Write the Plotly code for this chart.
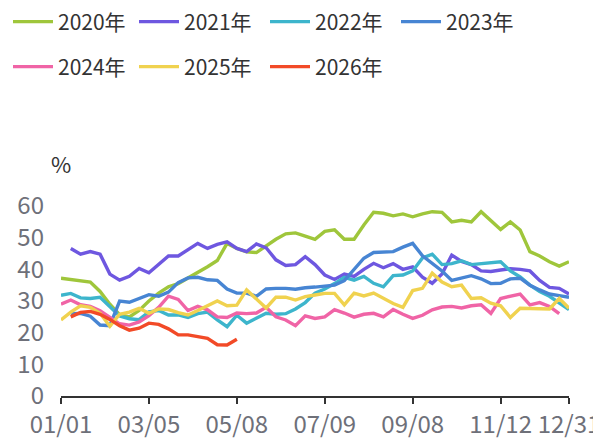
import plotly.graph_objects as go

tick_positions = [0, 9, 18, 27, 36, 45, 52]
tick_labels = ["01/01", "03/05", "05/08", "07/09", "09/08", "11/12", "12/31"]
y_ticks = [0, 10, 20, 30, 40, 50, 60]

# weekly values; each series starts at the given week index
v2020 = [37.2, 36.8, 36.4, 36.0, 33.0, 29.0, 25.7, 25.0, 27.0, 30.0,
         32.5, 34.5, 35.5, 37.3, 38.8, 40.8, 42.8, 48.2, 46.6, 45.5,
         45.3, 47.5, 49.5, 51.2, 51.5, 50.5, 49.5, 52.0, 52.5, 49.5,
         49.5, 54.0, 58.0, 57.7, 56.9, 57.5, 56.6, 57.5, 58.2, 58.0,
         55.0, 55.5, 55.0, 58.2, 55.4, 52.6, 55.0, 52.4, 45.6, 44.2,
         42.4, 41.0, 42.4]
s2020 = 0
v2021 = [46.6, 44.8, 45.6, 44.8, 38.5, 36.6, 37.8, 40.3, 38.9, 41.5,
         44.2, 44.2, 46.1, 48.2, 46.6, 47.9, 48.7, 46.6, 45.6, 48.0,
         46.8, 43.0, 41.2, 41.5, 44.0, 41.5, 38.2, 36.8, 38.5, 37.8,
         40.0, 41.9, 40.5, 41.8, 40.0, 40.8, 37.5, 35.6, 38.5, 44.5,
         42.5, 41.5, 39.5, 39.3, 39.8, 40.2, 40.0, 39.5, 36.5, 34.3,
         34.0, 32.2]
s2021 = 1
v2022 = [31.8, 32.4, 31.0, 30.8, 31.2, 28.3, 25.3, 24.4, 24.1, 26.6,
         27.0, 25.6, 25.6, 24.8, 26.0, 26.5, 24.0, 21.9, 25.5, 23.0,
         24.5, 26.1, 25.8, 26.0, 27.5, 29.5, 32.5, 33.8, 35.5, 37.5,
         36.6, 37.8, 35.6, 34.5, 38.0, 38.2, 39.5, 43.6, 44.8, 41.5,
         41.8, 42.7, 41.5, 41.8, 42.3, 42.4, 39.5, 37.6, 35.0, 33.0,
         31.5, 29.5, 27.3]
s2022 = 0
v2023 = [26.0, 26.1, 25.2, 22.4, 22.2, 30.0, 29.6, 30.8, 32.0, 31.5,
         32.8, 35.8, 37.3, 37.5, 36.7, 36.5, 33.8, 32.5, 32.5, 31.5,
         33.8, 34.0, 34.0, 33.7, 34.2, 34.4, 34.6, 35.0, 36.4, 40.0,
         43.5, 45.3, 45.4, 45.6, 47.0, 48.2, 44.3, 41.8, 39.5, 36.5,
         37.2, 38.0, 37.0, 35.5, 35.6, 37.0, 37.2, 35.0, 33.5, 32.2,
         31.7, 31.2]
s2023 = 1
v2024 = [29.0, 30.3, 28.8, 28.3, 26.9, 24.8, 22.8, 22.4, 23.4, 25.4,
         28.0, 31.5, 30.5, 27.0, 28.3, 27.2, 25.0, 24.8, 26.2, 26.0,
         26.2, 28.0, 25.0, 24.0, 22.2, 25.3, 24.5, 25.0, 27.3, 26.2,
         24.9, 25.8, 26.1, 25.0, 27.3, 25.8, 24.5, 25.5, 27.2, 28.1,
         28.3, 27.8, 28.5, 28.8, 26.1, 30.8, 31.6, 32.2, 28.8, 29.5,
         28.3, 26.0]
s2024 = 0
v2025 = [24.0, 26.5, 28.5, 28.0, 26.1, 22.0, 25.8, 26.5, 27.7, 26.1,
         27.5, 27.3, 26.3, 25.6, 27.0, 28.4, 30.0, 28.5, 28.7, 33.5,
         30.5, 27.8, 31.2, 31.2, 30.3, 31.4, 31.9, 32.4, 32.4, 28.8,
         32.5, 31.6, 32.5, 30.8, 29.2, 28.0, 33.3, 34.0, 38.8, 36.0,
         34.5, 35.0, 30.8, 31.0, 29.3, 28.5, 24.8, 27.7, 27.7, 27.6,
         27.5, 30.8, 27.7]
s2025 = 0
v2026 = [25.0, 26.4, 26.7, 25.8, 24.2, 22.2, 20.8, 21.4, 23.0, 22.6,
         21.2, 19.3, 19.3, 18.8, 18.2, 16.2, 16.1, 17.9]
s2026 = 1

names = ["2020年", "2021年", "2022年", "2023年", "2024年", "2025年", "2026年"]
values = [v2020, v2021, v2022, v2023, v2024, v2025, v2026]
starts = [s2020, s2021, s2022, s2023, s2024, s2025, s2026]
colors = ["#9fc63b", "#6e57e0", "#3db5cc", "#4785d3", "#f064a6", "#f0d24f", "#f24a27"]

FONT = "Noto Sans CJK SC"
W, H = 593, 431  # page body adds an 8px offset
ML, MR, MT, MB = 53, 32, 198, 43
PW = W - ML - MR

# legend slot layout (column, row) for each entry
leg_cols = [0, 1, 2, 3, 0, 1, 2]
leg_rows = [0, 0, 0, 0, 1, 1, 1]

fig = go.Figure()
legend_layouts = {}
for k, (n, v, s, c) in enumerate(zip(names, values, starts, colors)):
    lname = "legend" if k == 0 else f"legend{k + 1}"
    fig.add_trace(go.Scatter(
        x=list(range(s, s + len(v))), y=v, name=n, mode="lines",
        line=dict(color=c, width=3.4), legend=lname,
    ))
    legend_layouts[lname] = dict(
        orientation="h", xanchor="left", yanchor="middle",
        xref="paper", yref="container",
        x=(-5 + 131 * leg_cols[k] - ML) / PW,
        y=1 - (14 + 45 * leg_rows[k]) / H,
        itemwidth=40,
        font=dict(family=FONT, size=21, color="#333333"),
        bgcolor="rgba(0,0,0,0)", borderwidth=0, itemclick=False,
    )

fig.update_layout(
    width=W, height=H,
    margin=dict(l=ML, r=MR, t=MT, b=MB),
    paper_bgcolor="white", plot_bgcolor="white",
    font=dict(family=FONT),
    showlegend=True,
    xaxis=dict(
        range=[0, 52], tickmode="array", tickvals=tick_positions, ticktext=tick_labels,
        showgrid=False, zeroline=False, showline=True, linecolor="#333333", linewidth=2,
        ticks="outside", ticklen=6, tickwidth=2, tickcolor="#333333",
        ticklabelstandoff=0, automargin=False,
        tickfont=dict(family=FONT, size=24, color="#6e7079"),
    ),
    yaxis=dict(
        range=[0, 60], tickmode="array", tickvals=y_ticks,
        showgrid=False, zeroline=False, showline=False, ticks="",
        ticklabelstandoff=16, automargin=False,
        tickfont=dict(family=FONT, size=24, color="#6e7079"),
    ),
    annotations=[dict(
        text="%", xref="paper", yref="paper", x=0, y=(388 - 155) / 190,
        xanchor="center", yanchor="middle", showarrow=False,
        font=dict(family=FONT, size=22, color="#333333"),
    )],
)
fig.update_layout(**legend_layouts)

fig.write_html("out.html")
